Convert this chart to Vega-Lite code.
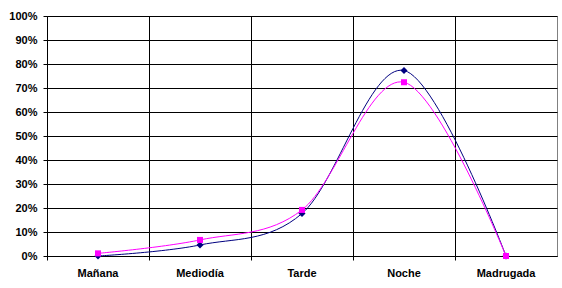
{
  "$schema": "https://vega.github.io/schema/vega-lite/v6.json",
  "width": 510,
  "height": 240,
  "autosize": "none",
  "padding": {"left": 47, "top": 16, "right": 5, "bottom": 32},
  "background": "white",
  "config": {
    "view": {"stroke": "#808080", "strokeWidth": 1},
    "axis": {
      "labelFont": "Liberation Sans",
      "labelFontWeight": "bold",
      "labelFontSize": 11,
      "labelColor": "black",
      "domainColor": "black",
      "tickColor": "black",
      "gridColor": "black",
      "gridOpacity": 1,
      "title": null
    }
  },
  "data": {
    "values": [
      {"periodo": "Mañana", "serie": "Serie1", "valor": 0.0},
      {"periodo": "Mediodía", "serie": "Serie1", "valor": 0.046},
      {"periodo": "Tarde", "serie": "Serie1", "valor": 0.177},
      {"periodo": "Noche", "serie": "Serie1", "valor": 0.773},
      {"periodo": "Madrugada", "serie": "Serie1", "valor": 0.0},
      {"periodo": "Mañana", "serie": "Serie2", "valor": 0.011},
      {"periodo": "Mediodía", "serie": "Serie2", "valor": 0.067},
      {"periodo": "Tarde", "serie": "Serie2", "valor": 0.192},
      {"periodo": "Noche", "serie": "Serie2", "valor": 0.724},
      {"periodo": "Madrugada", "serie": "Serie2", "valor": 0.0}
    ]
  },
  "encoding": {
    "y": {
      "field": "valor",
      "type": "quantitative",
      "scale": {"domain": [0, 1], "nice": false},
      "axis": {
        "values": [0, 0.1, 0.2, 0.3, 0.4, 0.5, 0.6, 0.7, 0.8, 0.9, 1],
        "format": ".0%",
        "tickSize": 4,
        "labelPadding": 6,
        "grid": true
      }
    },
    "color": {
      "field": "serie",
      "type": "nominal",
      "scale": {"domain": ["Serie1", "Serie2"], "range": ["#000080", "#FF00FF"]},
      "legend": null
    }
  },
  "layer": [
    {
      "mark": {"type": "line", "interpolate": "cardinal", "strokeWidth": 1},
      "encoding": {
        "x": {
          "field": "periodo",
          "type": "nominal",
          "sort": null,
          "bandPosition": 0.5,
          "scale": {"type": "band", "paddingInner": 0, "paddingOuter": 0},
          "axis": {
            "orient": "bottom",
            "bandPosition": 0,
            "labels": false,
            "grid": true,
            "ticks": true,
            "tickSize": 4,
            "domain": true
          }
        }
      }
    },
    {
      "mark": {"type": "point", "filled": true, "opacity": 1},
      "encoding": {
        "x": {
          "field": "periodo",
          "type": "nominal",
          "sort": null,
          "bandPosition": 0.5,
          "axis": {
            "orient": "bottom",
            "labels": true,
            "grid": false,
            "ticks": false,
            "domain": false,
            "labelPadding": 11,
            "labelAngle": 0
          }
        },
        "shape": {
          "field": "serie",
          "type": "nominal",
          "scale": {"domain": ["Serie1", "Serie2"], "range": ["diamond", "square"]},
          "legend": null
        },
        "size": {
          "field": "serie",
          "type": "nominal",
          "scale": {"domain": ["Serie1", "Serie2"], "range": [50, 36]},
          "legend": null
        }
      }
    }
  ],
  "resolve": {"axis": {"x": "independent"}}
}
